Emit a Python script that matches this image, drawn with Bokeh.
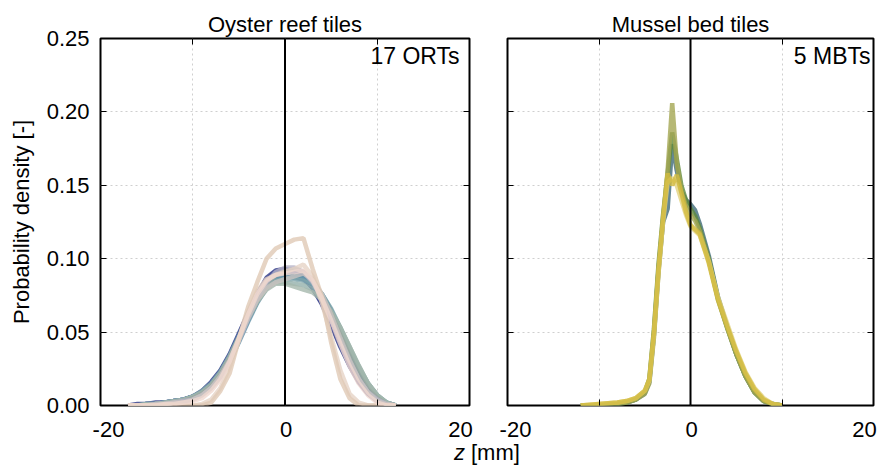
from bokeh.plotting import figure
from bokeh.models import (Range1d, FixedTicker, LinearAxis, Span, Label, ColumnDataSource,
                          PrintfTickFormatter, CustomJSTickFormatter)
from bokeh.core.properties import value
from bokeh.layouts import row, column
from bokeh.embed import file_html
from bokeh.resources import INLINE

# ---------------- data ----------------
z_ort = [-17, -16, -15, -14, -13, -12, -11, -10, -9, -8, -7, -6, -5, -4, -3,
         -2, -1, 0, 1, 2, 3, 4, 5, 6, 7, 8, 9, 10, 11, 12]

ort_01 = [0, 0.001, 0.001, 0.002, 0.002, 0.003, 0.004, 0.006, 0.010, 0.016, 0.024, 0.035, 0.049, 0.063, 0.076, 0.087, 0.092, 0.093, 0.091, 0.088, 0.080, 0.069, 0.055, 0.040, 0.027, 0.016, 0.008, 0.003, 0.001, 0]
ort_02 = [0, 0.000, 0.001, 0.001, 0.002, 0.003, 0.004, 0.006, 0.009, 0.015, 0.023, 0.034, 0.047, 0.061, 0.074, 0.085, 0.091, 0.092, 0.090, 0.087, 0.080, 0.070, 0.057, 0.043, 0.029, 0.018, 0.009, 0.004, 0.001, 0]
ort_03 = [0, 0.000, 0.001, 0.001, 0.002, 0.002, 0.003, 0.005, 0.008, 0.014, 0.022, 0.033, 0.046, 0.060, 0.073, 0.083, 0.089, 0.091, 0.090, 0.088, 0.082, 0.072, 0.059, 0.045, 0.031, 0.019, 0.010, 0.004, 0.001, 0]
ort_04 = [0, 0.000, 0.000, 0.001, 0.001, 0.002, 0.003, 0.005, 0.008, 0.013, 0.021, 0.032, 0.046, 0.061, 0.075, 0.085, 0.090, 0.090, 0.088, 0.086, 0.081, 0.073, 0.060, 0.046, 0.032, 0.020, 0.011, 0.005, 0.001, 0]
ort_05 = [0, 0.000, 0.001, 0.001, 0.002, 0.003, 0.004, 0.006, 0.009, 0.015, 0.023, 0.034, 0.048, 0.062, 0.074, 0.083, 0.088, 0.089, 0.089, 0.087, 0.082, 0.073, 0.061, 0.047, 0.033, 0.021, 0.011, 0.005, 0.001, 0]
ort_06 = [0, 0.000, 0.000, 0.001, 0.001, 0.002, 0.003, 0.005, 0.008, 0.013, 0.021, 0.031, 0.044, 0.058, 0.071, 0.081, 0.087, 0.089, 0.089, 0.088, 0.084, 0.075, 0.063, 0.049, 0.035, 0.022, 0.012, 0.005, 0.001, 0]
ort_07 = [0, 0.000, 0.001, 0.001, 0.002, 0.003, 0.004, 0.006, 0.009, 0.014, 0.022, 0.033, 0.046, 0.059, 0.071, 0.080, 0.085, 0.087, 0.087, 0.086, 0.083, 0.076, 0.065, 0.051, 0.037, 0.024, 0.013, 0.006, 0.002, 0]
ort_08 = [0, 0.000, 0.000, 0.001, 0.001, 0.002, 0.003, 0.005, 0.008, 0.013, 0.020, 0.030, 0.043, 0.057, 0.070, 0.080, 0.086, 0.088, 0.088, 0.087, 0.083, 0.075, 0.064, 0.051, 0.037, 0.024, 0.013, 0.006, 0.002, 0]
ort_09 = [0, 0.000, 0.001, 0.001, 0.002, 0.003, 0.004, 0.006, 0.010, 0.015, 0.023, 0.034, 0.047, 0.060, 0.072, 0.081, 0.085, 0.086, 0.086, 0.085, 0.082, 0.076, 0.066, 0.053, 0.039, 0.026, 0.015, 0.007, 0.002, 0]
ort_10 = [0, 0.000, 0.000, 0.001, 0.001, 0.002, 0.003, 0.005, 0.008, 0.013, 0.021, 0.032, 0.045, 0.059, 0.071, 0.080, 0.084, 0.084, 0.083, 0.082, 0.079, 0.073, 0.064, 0.053, 0.040, 0.027, 0.015, 0.007, 0.002, 0]
ort_11 = [0, 0.000, 0.001, 0.001, 0.002, 0.003, 0.004, 0.006, 0.009, 0.014, 0.022, 0.033, 0.046, 0.059, 0.071, 0.079, 0.083, 0.083, 0.081, 0.079, 0.077, 0.072, 0.064, 0.053, 0.040, 0.027, 0.015, 0.007, 0.002, 0]
ort_12 = [0, 0.000, 0.000, 0.001, 0.001, 0.002, 0.003, 0.005, 0.008, 0.013, 0.021, 0.032, 0.046, 0.060, 0.073, 0.083, 0.089, 0.092, 0.093, 0.091, 0.085, 0.075, 0.062, 0.048, 0.034, 0.021, 0.011, 0.005, 0.001, 0]
ort_13 = [0, 0.000, 0.000, 0.001, 0.001, 0.002, 0.003, 0.004, 0.007, 0.012, 0.019, 0.030, 0.044, 0.059, 0.073, 0.084, 0.091, 0.094, 0.094, 0.091, 0.084, 0.073, 0.059, 0.044, 0.030, 0.018, 0.009, 0.004, 0.001, 0]
ort_14 = [0, 0.000, 0.000, 0.001, 0.001, 0.002, 0.002, 0.004, 0.007, 0.012, 0.020, 0.031, 0.045, 0.060, 0.072, 0.080, 0.084, 0.086, 0.088, 0.090, 0.086, 0.076, 0.062, 0.046, 0.031, 0.018, 0.009, 0.003, 0.001, 0]
ort_15 = [0, 0, 0, 0, 0, 0, 0, 0, 0.001, 0.004, 0.012, 0.026, 0.045, 0.064, 0.078, 0.086, 0.089, 0.091, 0.093, 0.096, 0.088, 0.070, 0.047, 0.024, 0.008, 0.002, 0, 0, 0, 0]
ort_16 = [0, 0, 0, 0, 0, 0, 0, 0, 0, 0.002, 0.010, 0.022, 0.045, 0.067, 0.084, 0.100, 0.107, 0.110, 0.113, 0.114, 0.093, 0.074, 0.043, 0.018, 0.005, 0, 0, 0, 0, 0]
ort_17 = [0, 0, 0, 0, 0.001, 0.001, 0.002, 0.003, 0.005, 0.010, 0.018, 0.030, 0.046, 0.062, 0.076, 0.085, 0.089, 0.090, 0.091, 0.092, 0.085, 0.073, 0.058, 0.042, 0.027, 0.015, 0.007, 0.002, 0, 0]

ort_series = [ort_01, ort_02, ort_03, ort_04, ort_05, ort_06, ort_07, ort_08, ort_09,
              ort_10, ort_11, ort_12, ort_13, ort_14, ort_15, ort_16, ort_17]
ort_colors = ["#2b3585", "#323f95", "#2f4ca6", "#3b5aab", "#4b6aa8", "#5a7fad",
              "#4f86a6", "#6a98ab", "#7fa5ab", "#93b0ab", "#a5b8ad", "#9aa8a0",
              "#b8b4c8", "#c9c3c0", "#e6d3c6", "#e0c9b5", "#f0d8d0"]

z_mbt = [-12, -10, -8, -7, -6, -5, -4.5, -4, -3.5, -3, -2.5, -2, -1.5, -1, -0.5,
         0, 0.5, 1, 2, 3, 4, 5, 6, 7, 8, 9, 10]
mbt_1 = [0, 0, 0.001, 0.002, 0.004, 0.008, 0.016, 0.048, 0.092, 0.125, 0.134, 0.178, 0.160, 0.146, 0.140, 0.137, 0.133, 0.124, 0.102, 0.074, 0.054, 0.035, 0.020, 0.009, 0.003, 0.001, 0]
mbt_2 = [0, 0, 0.001, 0.002, 0.004, 0.009, 0.018, 0.052, 0.096, 0.130, 0.158, 0.186, 0.168, 0.150, 0.140, 0.134, 0.129, 0.121, 0.100, 0.073, 0.053, 0.035, 0.020, 0.009, 0.003, 0.001, 0]
mbt_3 = [0, 0, 0.001, 0.002, 0.004, 0.008, 0.015, 0.046, 0.090, 0.126, 0.160, 0.206, 0.165, 0.146, 0.136, 0.130, 0.126, 0.119, 0.099, 0.072, 0.053, 0.035, 0.020, 0.009, 0.003, 0.001, 0]
mbt_4 = [0, 0.001, 0.002, 0.003, 0.005, 0.010, 0.017, 0.048, 0.090, 0.125, 0.152, 0.155, 0.150, 0.140, 0.130, 0.122, 0.119, 0.116, 0.098, 0.074, 0.056, 0.038, 0.023, 0.012, 0.005, 0.001, 0]
mbt_5 = [0, 0.001, 0.002, 0.003, 0.005, 0.010, 0.018, 0.050, 0.093, 0.128, 0.158, 0.150, 0.157, 0.145, 0.132, 0.123, 0.120, 0.117, 0.097, 0.072, 0.054, 0.037, 0.022, 0.011, 0.004, 0.001, 0]
mbt_series = [mbt_1, mbt_2, mbt_3, mbt_4, mbt_5]
mbt_colors = ["#3f6a78", "#5e8a3c", "#a4a652", "#e2d27e", "#d3bc3e"]

x_ticks = [-20, -10, 0, 10, 20]
x_labelled = [-20, 0, 20]
x_label_text = ["-20", "0", "20"]
y_ticks = [0, 0.05, 0.10, 0.15, 0.20, 0.25]

titles = ["Oyster reef tiles", "Mussel bed tiles"]
counts = ["17 ORTs", "5 MBTs"]
y_label = "Probability density [-]"

FONT = "Liberation Sans"
FS = "22px"
FRAME_H = 367
TOP = 38
BOTTOM = 13
W_TOTAL = 878
H_TOTAL = 466
# frame geometry (pixels)
L_LEFT, L_W = 100, 369
R_LEFT, R_W = 507, 366


def blank_axis(ticks):
    return LinearAxis(ticker=FixedTicker(ticks=ticks),
                      formatter=CustomJSTickFormatter(code="return ''"),
                      major_label_text_font_size="2px", major_label_standoff=0,
                      axis_line_color=None, major_tick_in=6, major_tick_out=0,
                      minor_tick_in=0, minor_tick_out=0,
                      major_tick_line_color="black")


def make_fig(title, frame_w, mbl, mbr, show_y):
    p = figure(frame_width=frame_w, frame_height=FRAME_H,
               x_range=Range1d(-20, 20), y_range=Range1d(0, 0.25),
               output_backend="svg", toolbar_location=None, title=title,
               min_border_left=mbl, min_border_right=mbr, min_border_top=TOP,
               min_border_bottom=BOTTOM)
    p.title.text_font = FONT
    p.title.text_font_size = FS
    p.title.text_font_style = "normal"
    p.title.text_color = "black"
    p.title.align = "center"
    p.title.standoff = 4
    p.title.offset = 0
    p.outline_line_color = "black"
    p.outline_line_width = 2
    p.background_fill_color = "white"
    p.border_fill_color = "white"

    xa = p.xaxis[0]
    xa.ticker = FixedTicker(ticks=x_ticks)
    xa.formatter = CustomJSTickFormatter(code="return ''")
    xa.major_label_text_font_size = "2px"
    xa.major_label_standoff = 0
    ya = p.yaxis[0]
    ya.ticker = FixedTicker(ticks=y_ticks)
    for ax in (xa, ya):
        ax.axis_line_color = None
        ax.major_tick_in = 6
        ax.major_tick_out = 0
        ax.minor_tick_in = 0
        ax.minor_tick_out = 0
        ax.major_tick_line_color = "black"
        ax.major_tick_line_width = 1
    if show_y:
        ya.formatter = PrintfTickFormatter(format="%.2f")
        ya.major_label_text_font = FONT
        ya.major_label_text_font_size = FS
        ya.major_label_text_color = "black"
        ya.major_label_standoff = 11
        ya.axis_label = y_label
        ya.axis_label_text_font = FONT
        ya.axis_label_text_font_size = FS
        ya.axis_label_text_font_style = "normal"
        ya.axis_label_text_color = "black"
        ya.axis_label_standoff = 10
    else:
        ya.formatter = CustomJSTickFormatter(code="return ''")
        ya.major_label_text_font_size = "2px"
        ya.major_label_standoff = 0

    p.add_layout(blank_axis(x_ticks), "above")
    p.add_layout(blank_axis(y_ticks), "right")

    p.xgrid.ticker = FixedTicker(ticks=x_ticks)
    p.ygrid.ticker = FixedTicker(ticks=y_ticks)
    for g in (p.xgrid, p.ygrid):
        g.grid_line_color = "#cfcfcf"
        g.grid_line_dash = "2 3"
        g.grid_line_width = 1
    p.add_layout(Span(location=0, dimension="height", line_color="black", line_width=2))
    return p


p1 = make_fig(titles[0], L_W, L_LEFT, 13, True)
p2 = make_fig(titles[1], R_W, R_LEFT - (L_LEFT + L_W + 13), 5, False)

for vals, col in zip(ort_series, ort_colors):
    p1.line(z_ort, vals, line_color=col, line_width=4.5, line_alpha=0.8)
for vals, col in zip(mbt_series, mbt_colors):
    p2.line(z_mbt, vals, line_color=col, line_width=4.5, line_alpha=0.8)

p1.add_layout(Label(x=20, y=0.25, x_offset=-10, y_offset=-4, text=counts[0],
                    text_align="right", text_baseline="top",
                    text_font=FONT, text_font_size="23px", text_color="black"))
p2.add_layout(Label(x=20, y=0.25, x_offset=-3, y_offset=-4, text=counts[1],
                    text_align="right", text_baseline="top",
                    text_font=FONT, text_font_size="23px", text_color="black"))

# strip under both panels: x tick labels (through each panel's x scale) and shared x label
LAB_H = H_TOTAL - (TOP + FRAME_H + BOTTOM)
left_scale = 40 / L_W
right_scale = 40 / R_W
p3 = figure(width=W_TOTAL, height=LAB_H, x_range=Range1d(0, W_TOTAL),
            y_range=Range1d(0, LAB_H), output_backend="svg", toolbar_location=None,
            min_border=0, x_axis_type=None, y_axis_type=None)
p3.extra_x_ranges = {
    "left": Range1d(-20 - L_LEFT * left_scale, -20 + (W_TOTAL - L_LEFT) * left_scale),
    "right": Range1d(-20 - R_LEFT * right_scale, -20 + (W_TOTAL - R_LEFT) * right_scale),
}
p3.outline_line_color = None
p3.grid.visible = False

nudge = [8, 1, -9]   # outer labels sit slightly inside, as in the original
for rng in ("left", "right"):
    src = ColumnDataSource(dict(x=x_labelled, y=[LAB_H - 3] * 3, t=x_label_text, dx=nudge))
    p3.text(x="x", y="y", text="t", x_offset="dx", source=src, x_range_name=rng,
            text_font=value(FONT), text_font_size=value(FS), text_color="black",
            text_align="center", text_baseline="top")

cx = (L_LEFT + R_LEFT + R_W) / 2
p3.add_layout(Label(x=cx - 33, y=14, text="z", text_font=FONT, text_font_size=FS,
                    text_font_style="italic", text_baseline="middle", text_align="left",
                    text_color="black"))
p3.add_layout(Label(x=cx - 33 + 17, y=14, text="[mm]", text_font=FONT,
                    text_font_size=FS, text_baseline="middle", text_align="left",
                    text_color="black"))

layout = column(row(p1, p2), p3)
open("out.html", "w").write(file_html(layout, INLINE))
